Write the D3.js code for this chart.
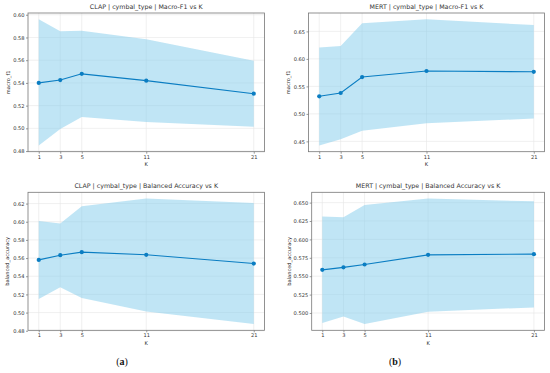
<!DOCTYPE html>
<html>
<head>
<meta charset="utf-8">
<script src="https://cdn.jsdelivr.net/npm/d3@7"></script>
<style>
  body { margin: 0; background: #fff; }
  text { font-family: "DejaVu Sans", sans-serif; fill: #333; }
</style>
</head>
<body>
<div id="chart"></div>
<script>
// Values
const kValues = [1, 3, 5, 11, 21];

const clapF1Mean  = [0.540, 0.5425, 0.548, 0.542, 0.5305];
const clapF1Upper = [0.596, 0.5855, 0.586, 0.5785, 0.5595];
const clapF1Lower = [0.485, 0.4995, 0.510, 0.5055, 0.5015];

const mertF1Mean  = [0.532, 0.538, 0.567, 0.578, 0.5765];
const mertF1Upper = [0.6206, 0.6236, 0.665, 0.672, 0.6616];
const mertF1Lower = [0.4427, 0.4537, 0.4695, 0.483, 0.4915];

const clapBaMean  = [0.558, 0.5632, 0.5665, 0.5636, 0.554];
const clapBaUpper = [0.6008, 0.598, 0.617, 0.6255, 0.6207];
const clapBaLower = [0.515, 0.528, 0.516, 0.5013, 0.4874];

const mertBaMean  = [0.5586, 0.562, 0.5659, 0.579, 0.580];
const mertBaUpper = [0.6313, 0.630, 0.6467, 0.6555, 0.6518];
const mertBaLower = [0.4863, 0.4953, 0.485, 0.5018, 0.5076];

const clapF1Ticks = [0.48, 0.50, 0.52, 0.54, 0.56, 0.58, 0.60];
const mertF1Ticks = [0.45, 0.50, 0.55, 0.60, 0.65];
const clapBaTicks = [0.48, 0.50, 0.52, 0.54, 0.56, 0.58, 0.60, 0.62];
const mertBaTicks = [0.500, 0.525, 0.550, 0.575, 0.600, 0.625, 0.650];

const width = 550, height = 373;

const svg = d3.select("#chart")
    .append("svg")
    .attr("width", width)
    .attr("height", height);

// one panel per metric / model
const panels = [
    {title: "CLAP | cymbal_type | Macro-F1 vs K", ylabel: "macro_f1",
     mean: clapF1Mean, upper: clapF1Upper, lower: clapF1Lower, ticks: clapF1Ticks, fmt: ".2f",
     box: {left: 28, right: 264.5, top: 13, bottom: 151.7}, ylabelX: 8},
    {title: "MERT | cymbal_type | Macro-F1 vs K", ylabel: "macro_f1",
     mean: mertF1Mean, upper: mertF1Upper, lower: mertF1Lower, ticks: mertF1Ticks, fmt: ".2f",
     box: {left: 308.5, right: 544.5, top: 13, bottom: 151.7}, ylabelX: 288.5},
    {title: "CLAP | cymbal_type | Balanced Accuracy vs K", ylabel: "balanced_accuracy",
     mean: clapBaMean, upper: clapBaUpper, lower: clapBaLower, ticks: clapBaTicks, fmt: ".2f",
     box: {left: 28, right: 264.5, top: 192.3, bottom: 330.3}, ylabelX: 7},
    {title: "MERT | cymbal_type | Balanced Accuracy vs K", ylabel: "balanced_accuracy",
     mean: mertBaMean, upper: mertBaUpper, lower: mertBaLower, ticks: mertBaTicks, fmt: ".3f",
     box: {left: 311.7, right: 544.5, top: 192.3, bottom: 330.3}, ylabelX: 289}
];

panels.forEach(p => {
    const b = p.box;
    const g = svg.append("g");

    const lo = d3.min(p.lower), hi = d3.max(p.upper);
    const pad = (hi - lo) * 0.05;

    const xScale = d3.scaleLinear().domain([0, 22]).range([b.left, b.right]);
    const yScale = d3.scaleLinear().domain([lo - pad, hi + pad]).range([b.bottom, b.top]);

    const rows = kValues.map((k, i) => ({k: k, mean: p.mean[i], upper: p.upper[i], lower: p.lower[i]}));

    // grid
    g.selectAll(".gx").data(kValues).enter().append("line")
        .attr("x1", d => xScale(d)).attr("x2", d => xScale(d))
        .attr("y1", b.top).attr("y2", b.bottom)
        .attr("stroke", "#e6e6e6").attr("stroke-width", 0.6);
    g.selectAll(".gy").data(p.ticks).enter().append("line")
        .attr("x1", b.left).attr("x2", b.right)
        .attr("y1", d => yScale(d)).attr("y2", d => yScale(d))
        .attr("stroke", "#e6e6e6").attr("stroke-width", 0.6);

    // band
    const area = d3.area()
        .x(d => xScale(d.k))
        .y0(d => yScale(d.lower))
        .y1(d => yScale(d.upper));
    g.append("path").datum(rows)
        .attr("d", area)
        .attr("fill", "#87ceeb")
        .attr("fill-opacity", 0.52);

    // mean line + markers
    const line = d3.line().x(d => xScale(d.k)).y(d => yScale(d.mean));
    g.append("path").datum(rows)
        .attr("d", line)
        .attr("fill", "none")
        .attr("stroke", "#0a7dc2")
        .attr("stroke-width", 1.1);
    g.selectAll(".dot").data(rows).enter().append("circle")
        .attr("cx", d => xScale(d.k))
        .attr("cy", d => yScale(d.mean))
        .attr("r", 2.1)
        .attr("fill", "#0a7dc2");

    // axes
    const xAxis = d3.axisBottom(xScale).tickValues(kValues).tickSize(2).tickPadding(1.5);
    const yAxis = d3.axisLeft(yScale).tickValues(p.ticks).tickFormat(d3.format(p.fmt)).tickSize(2).tickPadding(1.5);

    const gx = g.append("g")
        .attr("transform", "translate(0," + b.bottom + ")")
        .call(xAxis);
    const gy = g.append("g")
        .attr("transform", "translate(" + b.left + ",0)")
        .call(yAxis);
    [gx, gy].forEach(a => {
        a.select(".domain").remove();
        a.selectAll("line").attr("stroke", "#555").attr("stroke-width", 0.6);
        a.selectAll("text").style("font-size", "5.1px").style("fill", "#333");
    });

    // frame
    g.append("rect")
        .attr("x", b.left).attr("y", b.top)
        .attr("width", b.right - b.left).attr("height", b.bottom - b.top)
        .attr("fill", "none")
        .attr("stroke", "#777")
        .attr("stroke-width", 0.8);

    // title and labels
    g.append("text")
        .attr("x", (b.left + b.right) / 2)
        .attr("y", b.top - 4)
        .attr("text-anchor", "middle")
        .style("font-size", "6.3px")
        .text(p.title);

    g.append("text")
        .attr("x", (b.left + b.right) / 2)
        .attr("y", b.bottom + 14.5)
        .attr("text-anchor", "middle")
        .style("font-size", "5.1px")
        .text("K");

    g.append("text")
        .attr("transform", "translate(" + p.ylabelX + "," + ((b.top + b.bottom) / 2) + ") rotate(-90)")
        .attr("text-anchor", "middle")
        .attr("dy", "0.35em")
        .style("font-size", "5.1px")
        .text(p.ylabel);
});

// sub-figure captions
[{label: "a", x: 122}, {label: "b", x: 395}].forEach(c => {
    const t = svg.append("text")
        .attr("x", c.x)
        .attr("y", 365)
        .attr("text-anchor", "middle")
        .style("font-family", "'Liberation Serif', serif")
        .style("font-size", "10px")
        .style("fill", "#111");
    t.append("tspan").text("(");
    t.append("tspan").style("font-weight", "bold").text(c.label);
    t.append("tspan").text(")");
});
</script>
</body>
</html>
